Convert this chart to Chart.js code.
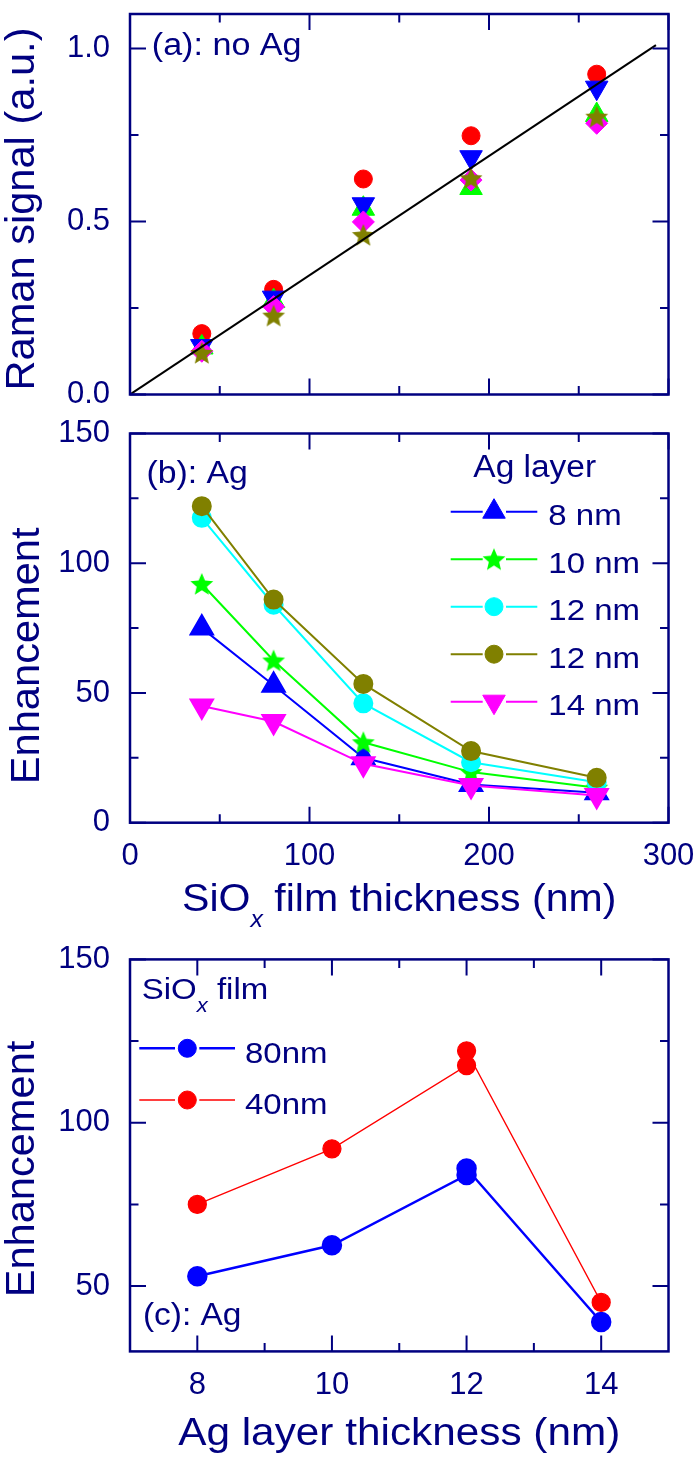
<!DOCTYPE html>
<html>
<head>
<meta charset="utf-8">
<script src="https://cdn.jsdelivr.net/npm/chart.js@4/dist/chart.umd.min.js"></script>
<style>
html,body{margin:0;padding:0;background:#fff;}
#wrap{position:relative;width:700px;height:1461px;background:#fff;}
#wrap canvas{position:absolute;left:0;top:0;}
</style>
</head>
<body>
<div id="wrap">
<canvas id="ca" width="700" height="1461"></canvas>
<canvas id="cb" width="700" height="1461"></canvas>
<canvas id="cc" width="700" height="1461"></canvas>
</div>
<script>
// ---------------- DATA ----------------
// panel (a) & (b): SiOx film thickness (nm)
const filmThickness = [40, 80, 130, 190, 260];
// panel (a): Raman signal, no Ag (a.u.)
const ramanRed     = [0.176, 0.304, 0.623, 0.748, 0.926];
const ramanGreen   = [0.136, 0.270, 0.537, 0.597, 0.808];
const ramanBlue    = [0.140, 0.280, 0.550, 0.686, 0.887];
const ramanMagenta = [0.125, 0.254, 0.499, 0.620, 0.784];
const ramanOlive   = [0.120, 0.228, 0.461, 0.625, 0.803];
const fitX = [0, 293];
const fitY = [0, 1.01];
// panel (b): Enhancement vs SiOx thickness, per Ag layer
const agLabels = ['8 nm', '10 nm', '12 nm', '12 nm', '14 nm'];
const ag8   = [75, 53, 25, 14.7, 11.5];
const ag10  = [92, 62.5, 31, 19.5, 13.5];
const ag12a = [117.5, 84, 46, 23.3, 15.6];
const ag12b = [122, 86, 53.5, 27.6, 17.3];
const ag14  = [45, 39, 22.7, 14.3, 10.5];
// panel (c): Enhancement vs Ag layer thickness
const agLayer = [8, 10, 12, 12, 14];
const sioLabels = ['80nm', '40nm'];
const sio80 = [53, 62.5, 84, 86, 39];
const sio40 = [75, 92, 117.5, 122, 45];
// tick values
const aYTicks = [0, 0.5, 1.0];
const aYMinor = [0.25, 0.75];
const bXTicks = [0, 100, 200, 300];
const bXMinor = [50, 150, 250];
const bYTicks = [0, 50, 100, 150];
const bYMinor = [25, 75, 125];
const cXTicks = [8, 10, 12, 14];
const cXMinor = [9, 11, 13];
const cYTicks = [50, 100, 150];
const cYMinor = [75, 125];

// ---------------- STYLE / HELPERS ----------------
const NAVY = '#000080';
const FONT = '"Liberation Sans", Arial, Helvetica, sans-serif';
const XH = 70; // height reserved for x scale box
const xy = (xs, ys) => xs.map((x, i) => ({x: x, y: ys[i]}));

function makeStar(color, R) {
  const s = Math.ceil(2 * R + 2);
  const c = document.createElement('canvas');
  c.width = s; c.height = s;
  const g = c.getContext('2d');
  const cx = s / 2, cy = s / 2 + R * 0.08;
  g.beginPath();
  for (let i = 0; i < 10; i++) {
    const r = i % 2 === 0 ? R : R * 0.45;
    const a = -Math.PI / 2 + i * Math.PI / 5;
    const px = cx + r * Math.cos(a), py = cy + r * Math.sin(a);
    if (i === 0) g.moveTo(px, py); else g.lineTo(px, py);
  }
  g.closePath();
  g.fillStyle = color;
  g.fill();
  return c;
}
const starOlive = makeStar('#808000', 12);
const starGreen = makeStar('#00ff00', 12);

function drawRich(ctx, o) {
  ctx.save();
  ctx.fillStyle = o.color || NAVY;
  ctx.textBaseline = 'alphabetic';
  ctx.textAlign = 'left';
  ctx.translate(o.x, o.y);
  if (o.rot) ctx.rotate(o.rot);
  ctx.scale(o.hs || 1, 1);
  const parts = o.parts.map(p => typeof p === 'string' ? {t: p} : Object.assign({}, p));
  const fontOf = p => (p.italic ? 'italic ' : '') + (p.size || o.size) + 'px ' + FONT;
  let total = 0;
  parts.forEach(p => { ctx.font = fontOf(p); p.w = ctx.measureText(p.t).width; total += p.w; });
  let cx = o.align === 'center' ? -total / 2 : 0;
  parts.forEach(p => { ctx.font = fontOf(p); ctx.fillText(p.t, cx, p.dy || 0); cx += p.w; });
  ctx.restore();
}

function drawFrameTicks(chart, spec) {
  const ctx = chart.ctx, a = chart.chartArea, x = chart.scales.x, y = chart.scales.y;
  const MAJ = 16, MIN = 8.5;
  ctx.save();
  ctx.strokeStyle = NAVY;
  ctx.lineWidth = 2;
  ctx.beginPath();
  const xt = (v, len) => { const p = x.getPixelForValue(v);
    ctx.moveTo(p, a.bottom); ctx.lineTo(p, a.bottom - len);
    ctx.moveTo(p, a.top); ctx.lineTo(p, a.top + len); };
  const yt = (v, len) => { const p = y.getPixelForValue(v);
    ctx.moveTo(a.left, p); ctx.lineTo(a.left + len, p);
    ctx.moveTo(a.right, p); ctx.lineTo(a.right - len, p); };
  spec.xMajor.forEach(v => xt(v, MAJ));
  spec.xMinor.forEach(v => xt(v, MIN));
  spec.yMajor.forEach(v => yt(v, MAJ));
  spec.yMinor.forEach(v => yt(v, MIN));
  ctx.stroke();
  ctx.lineWidth = 2.5;
  ctx.strokeRect(a.left, a.top, a.right - a.left, a.bottom - a.top);
  ctx.restore();
}

function drawMarker(ctx, ds, x, y) {
  ctx.save();
  ctx.fillStyle = ds.pointBackgroundColor;
  ctx.strokeStyle = ds.pointBorderColor;
  ctx.lineWidth = 1;
  if (Chart.helpers && Chart.helpers.drawPoint) {
    Chart.helpers.drawPoint(ctx, {pointStyle: ds.pointStyle, radius: ds.pointRadius,
      rotation: ds.pointRotation || 0, borderWidth: 1}, x, y);
  } else {
    ctx.beginPath(); ctx.arc(x, y, ds.pointRadius, 0, Math.PI * 2); ctx.fill();
  }
  ctx.restore();
}

function drawLegend(chart, L) {
  const ctx = chart.ctx;
  chart.data.datasets.forEach((ds, i) => {
    const y = L.y0 + i * L.dy;
    ctx.save();
    ctx.strokeStyle = ds.borderColor;
    ctx.lineWidth = ds.borderWidth;
    ctx.beginPath();
    ctx.moveTo(L.x1, y); ctx.lineTo(L.g1, y);
    ctx.moveTo(L.g2, y); ctx.lineTo(L.x2, y);
    ctx.stroke();
    ctx.restore();
    drawMarker(ctx, ds, L.xm, y);
    drawRich(ctx, {parts: [ds.label], x: L.xt, y: y + L.tb, size: L.size, hs: L.hs});
  });
}

function makeOptions(cfg) {
  const tickFont = {family: FONT, size: 31};
  return {
    responsive: false,
    animation: false,
    events: [],
    layout: {padding: {left: 0, right: 31.5, top: cfg.top, bottom: cfg.bottom}},
    plugins: {legend: {display: false}, tooltip: {enabled: false}, title: {display: false}},
    scales: {
      x: {
        type: 'linear', min: cfg.xMin, max: cfg.xMax,
        grid: {display: false, drawTicks: false, tickLength: 0},
        border: {display: false},
        title: {display: false},
        ticks: {display: cfg.xLabels, padding: 15, color: NAVY, font: tickFont,
                maxRotation: 0, autoSkip: false, callback: v => String(v)},
        afterBuildTicks: s => { s.ticks = cfg.xMajor.map(v => ({value: v})); },
        afterFit: s => { s.height = XH; s.paddingLeft = 0; s.paddingRight = 0; }
      },
      y: {
        type: 'linear', min: cfg.yMin, max: cfg.yMax,
        grid: {display: false, drawTicks: false, tickLength: 0},
        border: {display: false},
        title: {display: false},
        ticks: {padding: 20, color: NAVY, font: tickFont, autoSkip: false,
                callback: cfg.yFmt || (v => String(v))},
        afterBuildTicks: s => { s.ticks = cfg.yMajor.map(v => ({value: v})); },
        afterFit: s => { s.width = 130; s.paddingTop = 0; s.paddingBottom = 0; }
      }
    }
  };
}

// ---------------- PANEL (a) ----------------
new Chart(document.getElementById('ca'), {
  type: 'scatter',
  data: {
    datasets: [
      {label: 'fit', data: xy(fitX, fitY), showLine: true, borderColor: '#000000', borderWidth: 2, pointRadius: 0, order: 0},
      {label: 'olive', data: xy(filmThickness, ramanOlive), pointStyle: starOlive, pointRadius: 12,
       pointBackgroundColor: '#808000', pointBorderColor: '#808000', order: 1},
      {label: 'magenta', data: xy(filmThickness, ramanMagenta), pointStyle: 'rectRot', pointRadius: 11,
       pointBackgroundColor: '#ff00ff', pointBorderColor: '#ff00ff', order: 2},
      {label: 'blue', data: xy(filmThickness, ramanBlue), pointStyle: 'triangle', pointRotation: 180, pointRadius: 13,
       pointBackgroundColor: '#0000ff', pointBorderColor: '#0000ff', order: 3},
      {label: 'green', data: xy(filmThickness, ramanGreen), pointStyle: 'triangle', pointRadius: 13,
       pointBackgroundColor: '#00ff00', pointBorderColor: '#00ff00', order: 4},
      {label: 'red', data: xy(filmThickness, ramanRed), pointStyle: 'circle', pointRadius: 9,
       pointBackgroundColor: '#ff0000', pointBorderColor: '#ff0000', order: 5}
    ]
  },
  options: makeOptions({top: 4, bottom: 1461 - 394.5 - XH, xMin: 0, xMax: 300, yMin: 0, yMax: 1.1,
    xMajor: bXTicks, yMajor: aYTicks, xLabels: false, yFmt: v => v.toFixed(1)}),
  plugins: [{
    id: 'deco',
    afterDatasetsDraw(chart) {
      drawFrameTicks(chart, {xMajor: bXTicks, xMinor: bXMinor, yMajor: aYTicks, yMinor: aYMinor});
      const ctx = chart.ctx;
      drawRich(ctx, {parts: ['(a): no Ag'], x: 151.8, y: 55, size: 31, hs: 1.1});
      drawRich(ctx, {parts: ['Raman signal (a.u.)'], x: 33.5, y: 209, size: 40, hs: 1.04,
        rot: -Math.PI / 2, align: 'center'});
    }
  }]
});

// ---------------- PANEL (b) ----------------
const bColors = ['#0000ff', '#00ff00', '#00ffff', '#808000', '#ff00ff'];
const bStyles = ['triangle', starGreen, 'circle', 'circle', 'triangle'];
const bRadius = [13, 12, 9, 9, 13];
const bRot = [0, 0, 0, 0, 180];
const bSeries = [ag8, ag10, ag12a, ag12b, ag14];
new Chart(document.getElementById('cb'), {
  type: 'scatter',
  data: {
    datasets: bSeries.map((s, i) => ({
      label: agLabels[i], data: xy(filmThickness, s), showLine: true,
      borderColor: bColors[i], borderWidth: 2,
      pointStyle: bStyles[i], pointRadius: bRadius[i], pointRotation: bRot[i],
      pointBackgroundColor: bColors[i], pointBorderColor: bColors[i],
      order: bSeries.length - i
    }))
  },
  options: makeOptions({top: 433.5, bottom: 1461 - 822.7 - XH, xMin: 0, xMax: 300, yMin: 0, yMax: 150,
    xMajor: bXTicks, yMajor: bYTicks, xLabels: true}),
  plugins: [{
    id: 'deco',
    afterDatasetsDraw(chart) {
      drawFrameTicks(chart, {xMajor: bXTicks, xMinor: bXMinor, yMajor: bYTicks, yMinor: bYMinor});
      const ctx = chart.ctx;
      drawRich(ctx, {parts: ['(b): Ag'], x: 146.4, y: 483.3, size: 31, hs: 1.09});
      drawRich(ctx, {parts: ['Ag layer'], x: 473.3, y: 476.7, size: 31, hs: 1.08});
      drawLegend(chart, {y0: 511.7, dy: 47.5, x1: 450.7, g1: 482.7, g2: 506, x2: 537.3, xm: 494,
        xt: 548.3, tb: 13.3, size: 30, hs: 1.1});
      drawRich(ctx, {parts: ['Enhancement'], x: 39, y: 655.8, size: 40, hs: 1.04,
        rot: -Math.PI / 2, align: 'center'});
      const a = chart.chartArea;
      drawRich(ctx, {parts: [{t: 'SiO'}, {t: 'x', italic: true, size: 23, dy: 16}, {t: ' film thickness (nm)'}],
        x: (a.left + a.right) / 2, y: 910.7, size: 38, hs: 1.08, align: 'center'});
    }
  }]
});

// ---------------- PANEL (c) ----------------
new Chart(document.getElementById('cc'), {
  type: 'scatter',
  data: {
    datasets: [
      {label: sioLabels[0], data: xy(agLayer, sio80), showLine: true, borderColor: '#0000ff', borderWidth: 2.5,
       pointStyle: 'circle', pointRadius: 9, pointBackgroundColor: '#0000ff', pointBorderColor: '#0000ff', order: 2},
      {label: sioLabels[1], data: xy(agLayer, sio40), showLine: true, borderColor: '#ff0000', borderWidth: 1.3,
       pointStyle: 'circle', pointRadius: 9, pointBackgroundColor: '#ff0000', pointBorderColor: '#ff0000', order: 1}
    ]
  },
  options: makeOptions({top: 959.4, bottom: 1461 - 1351.4 - XH, xMin: 7, xMax: 15, yMin: 30, yMax: 150,
    xMajor: cXTicks, yMajor: cYTicks, xLabels: true}),
  plugins: [{
    id: 'deco',
    afterDatasetsDraw(chart) {
      drawFrameTicks(chart, {xMajor: cXTicks, xMinor: cXMinor, yMajor: cYTicks, yMinor: cYMinor});
      const ctx = chart.ctx;
      drawRich(ctx, {parts: [{t: 'SiO'}, {t: 'x', italic: true, size: 20, dy: 12.4}, {t: ' film'}],
        x: 141.7, y: 999.3, size: 30, hs: 1.1});
      drawLegend(chart, {y0: 1048.3, dy: 51.7, x1: 139.3, g1: 175, g2: 199.3, x2: 235, xm: 187.3,
        xt: 245, tb: 14.4, size: 30, hs: 1.1});
      drawRich(ctx, {parts: ['(c): Ag'], x: 142.9, y: 1325, size: 31, hs: 1.08});
      drawRich(ctx, {parts: ['Enhancement'], x: 34, y: 1169, size: 40, hs: 1.04,
        rot: -Math.PI / 2, align: 'center'});
      const a = chart.chartArea;
      drawRich(ctx, {parts: ['Ag layer thickness (nm)'], x: (a.left + a.right) / 2, y: 1445.4,
        size: 39, hs: 1.085, align: 'center'});
    }
  }]
});
</script>
</body>
</html>
